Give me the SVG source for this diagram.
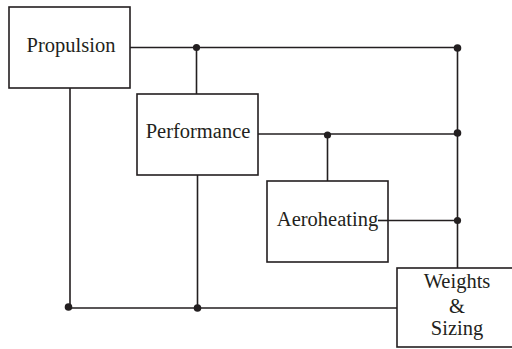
<svg xmlns="http://www.w3.org/2000/svg" width="512" height="349" viewBox="0 0 512 349">
<style>
.box{fill:#fff;stroke:#231f20;stroke-width:1.6}
.lbl{font-family:"Liberation Serif","Times New Roman",serif;font-size:20.5px;fill:#231f20;text-anchor:middle}
.wire{stroke:#231f20;stroke-width:1.6;fill:none}
.dot{fill:#231f20}
</style>
<rect width="512" height="349" fill="#fff"/>
<g id="connectors">
<path class="wire" d="M130,47.5 H457.5 V268"/>
<path class="wire" d="M196.5,47.5 V94"/>
<path class="wire" d="M258,134 H457.5"/>
<path class="wire" d="M327.5,134 V181"/>
<path class="wire" d="M378,220.5 H457.5"/>
<path class="wire" d="M70,88 V308 H397"/>
<path class="wire" d="M197.5,175 V308"/>
<circle class="dot" cx="196.5" cy="47.5" r="3.6"/>
<circle class="dot" cx="457.5" cy="48" r="3.8"/>
<circle class="dot" cx="327.5" cy="135" r="3.6"/>
<circle class="dot" cx="457.5" cy="133" r="3.8"/>
<circle class="dot" cx="457.5" cy="220.5" r="3.6"/>
<circle class="dot" cx="68.5" cy="307" r="3.8"/>
<circle class="dot" cx="197.5" cy="308" r="3.8"/>
</g>
<g id="propulsion">
<rect class="box" x="9" y="7" width="121" height="81"/>
<text class="lbl" x="71" y="52">Propulsion</text>
</g>
<g id="performance">
<rect class="box" x="137" y="94" width="121" height="81"/>
<text class="lbl" x="198" y="138">Performance</text>
</g>
<g id="aeroheating">
<rect class="box" x="267" y="181" width="121" height="81"/>
<text class="lbl" x="327.5" y="226">Aeroheating</text>
<path class="wire" d="M378,220.5 H388"/>
</g>
<g id="weights">
<rect class="box" x="397" y="268" width="117" height="79"/>
<text class="lbl" x="457" y="288">Weights</text>
<text class="lbl" x="457" y="313">&amp;</text>
<text class="lbl" x="457" y="335">Sizing</text>
</g>
</svg>
